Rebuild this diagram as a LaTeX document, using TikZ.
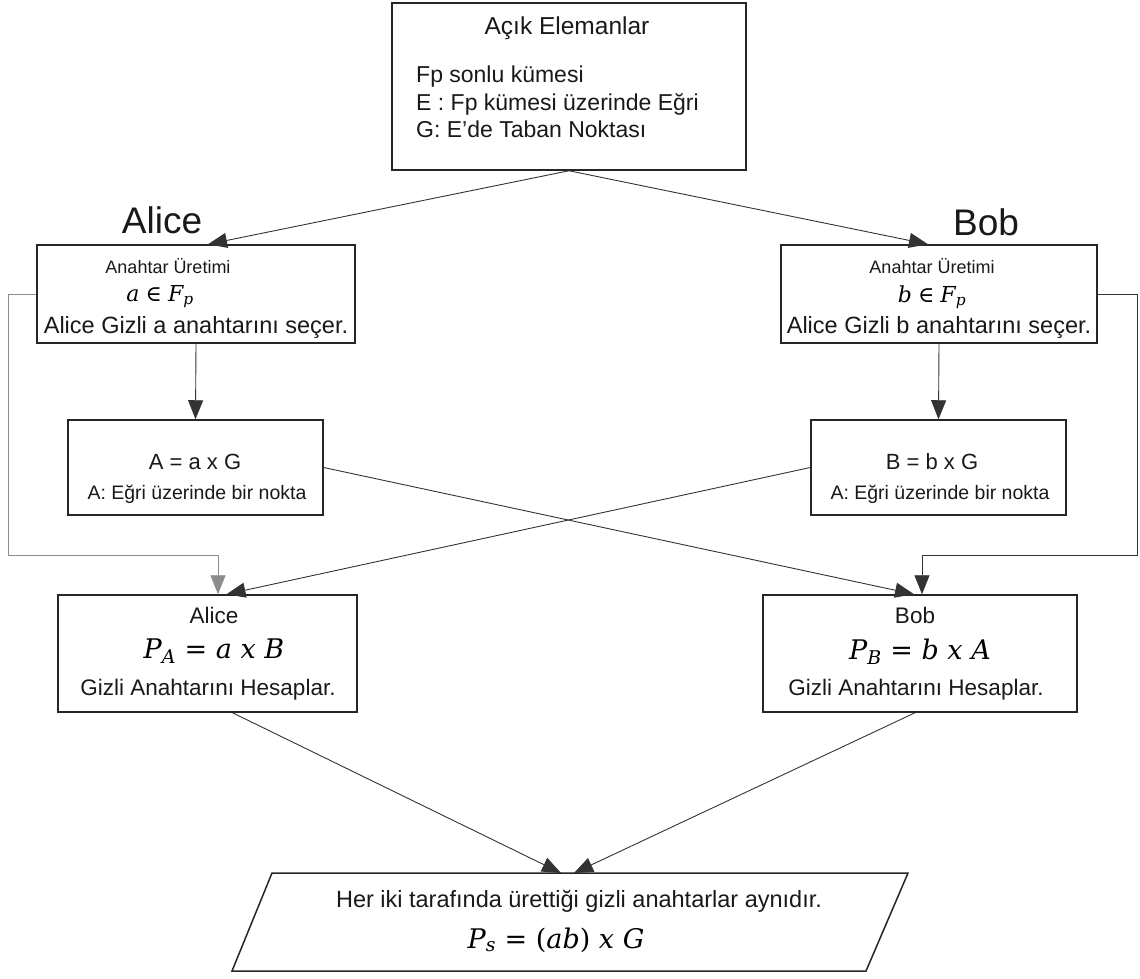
\documentclass[tikz,border=0pt]{standalone}
\usepackage{fontspec}
\setmainfont{Liberation Sans}
\newfontfamily\formulafont{DejaVu Serif}
\usetikzlibrary{arrows.meta}

% formula pieces set in a serif italic
\newcommand{\fv}[1]{{\formulafont\itshape #1}}
\newcommand{\fo}[1]{{\formulafont #1}}
\newcommand{\fs}[1]{\textsubscript{\formulafont\itshape #1}}
\newcommand{\gap}{\hspace{0.32em}}

\begin{document}
\begin{tikzpicture}[x=1pt,y=-1pt,
  box/.style={draw=black!85, line width=1.5pt, inner sep=0pt, fill=white},
  txt/.style={inner sep=0pt, text=black!90},
  conn/.style={draw=black!80, line width=0.9pt},
  arr/.style={conn, -{Triangle[length=19pt,width=15pt]}},
  grayarr/.style={arr, draw=black!45},
  fbig/.style={font=\fontsize{37}{40}\selectfont},
  fmain/.style={font=\fontsize{23.5}{26}\selectfont},
  ftitle/.style={font=\fontsize{22.5}{25}\selectfont},
  fsmall/.style={font=\fontsize{18}{20}\selectfont},
  fmid/.style={font=\fontsize{19.5}{22}\selectfont},
  feq/.style={font=\fontsize{22}{25}\selectfont},
  fkey/.style={font=\fontsize{22}{25}\selectfont, text=black},
  fmath/.style={font=\fontsize{27}{30}\selectfont, text=black}
]
\useasboundingbox (0,0) rectangle (1140,978);

% public parameters
\node[box, minimum width=354pt, minimum height=167pt] (pub) at (569,86.5) {};
\node[txt, font=\fontsize{24.5}{27}\selectfont] (pubtitle) at (567,28) {Açık Elemanlar};
\node[txt, anchor=west, align=left, font=\fontsize{23}{27.5}\selectfont] (publist) at (416,102)
  {Fp sonlu kümesi\\E : Fp kümesi üzerinde Eğri\\G: E’de Taban Noktası};

% party labels
\node[txt, fbig] (alicelbl) at (162,220) {Alice};
\node[txt, fbig] (boblbl) at (986,222) {Bob};

% key generation
\node[box, minimum width=318pt, minimum height=98pt] (ka) at (196,294) {};
\node[txt, fsmall] (katitle) at (168,266) {Anahtar Üretimi};
\node[txt, fkey] (kamath) at (160,297) {\fv{a} \fo{∈} \fv{F}\fs{p}};
\node[txt, fmain] (katext) at (196,327) {Alice Gizli a anahtarını seçer.};

\node[box, minimum width=316pt, minimum height=98pt] (kb) at (939,294) {};
\node[txt, fsmall] (kbtitle) at (932,266) {Anahtar Üretimi};
\node[txt, fkey] (kbmath) at (932,297) {\fv{b} \fo{∈} \fv{F}\fs{p}};
\node[txt, fmain] (kbtext) at (939,327) {Alice Gizli b anahtarını seçer.};

% public points
\node[box, minimum width=255pt, minimum height=95pt] (ba) at (195.5,467.5) {};
\node[txt, feq] (baeq) at (195,462) {A = a x G};
\node[txt, fmid] (batext) at (197,494) {A: Eğri üzerinde bir nokta};

\node[box, minimum width=255pt, minimum height=95pt] (bb) at (938.5,467.5) {};
\node[txt, feq] (bbeq) at (932,462) {B = b x G};
\node[txt, fmid] (bbtext) at (940,494) {A: Eğri üzerinde bir nokta};

% shared key computation
\node[box, minimum width=299pt, minimum height=117pt] (pa) at (207.5,653.5) {};
\node[txt, ftitle] (patitle) at (214,615) {Alice};
\node[txt, fmath] (pamath) at (214,651) {\fv{P}\fs{A}\gap\fo{=}\gap\fv{a}\gap\fv{x}\gap\fv{B}};
\node[txt, ftitle] (patext) at (208,690) {Gizli Anahtarını Hesaplar.};

\node[box, minimum width=314pt, minimum height=117pt] (pb) at (920,653.5) {};
\node[txt, ftitle] (pbtitle) at (915,615) {Bob};
\node[txt, fmath] (pbmath) at (920,652) {\fv{P}\fs{B}\gap\fo{=}\gap\fv{b}\gap\fv{x}\gap\fv{A}};
\node[txt, ftitle] (pbtext) at (916,690) {Gizli Anahtarını Hesaplar.};

% result
\coordinate (resTL) at (272,873);
\coordinate (resTR) at (908,873);
\coordinate (resBR) at (866,971);
\coordinate (resBL) at (232,971);
\draw[draw=black!85, line width=1.5pt, line join=miter] (resTL) -- (resTR) -- (resBR) -- (resBL) -- cycle;
\node[txt, fmain] (restext) at (579,901) {Her iki tarafında ürettiği gizli anahtarlar aynıdır.};
\node[txt, fmath] (resmath) at (556,940) {\fv{P}\fs{s}\gap\fo{=}\gap\fo{(}\fv{ab}\fo{)}\gap\fv{x}\gap\fv{G}};
\coordinate (resInL) at (561,873);
\coordinate (resInR) at (574,873);

% connectors
\draw[arr] (pub.south) -- ([xshift=12pt]ka.north);
\draw[arr] (pub.south) -- ([xshift=-11pt]kb.north);
\draw[arr] (ka.south) -- (ba.north);
\draw[arr] (kb.south) -- (bb.north);

\coordinate (lbend) at (8,555);
\coordinate (rbend) at (1137,555);
\draw[grayarr] (ka.west) -| (lbend) -| ([xshift=10.5pt]pa.north);
\draw[arr] (kb.east) -| (rbend) -| ([xshift=2pt]pb.north);

\draw[arr] (bb.west) -- ([xshift=19pt]pa.north);
\draw[arr] (ba.east) -- ([xshift=-6pt]pb.north);

\draw[arr] ([xshift=25pt]pa.south) -- (resInL);
\draw[arr] ([xshift=-5pt]pb.south) -- (resInR);
\end{tikzpicture}
\end{document}
